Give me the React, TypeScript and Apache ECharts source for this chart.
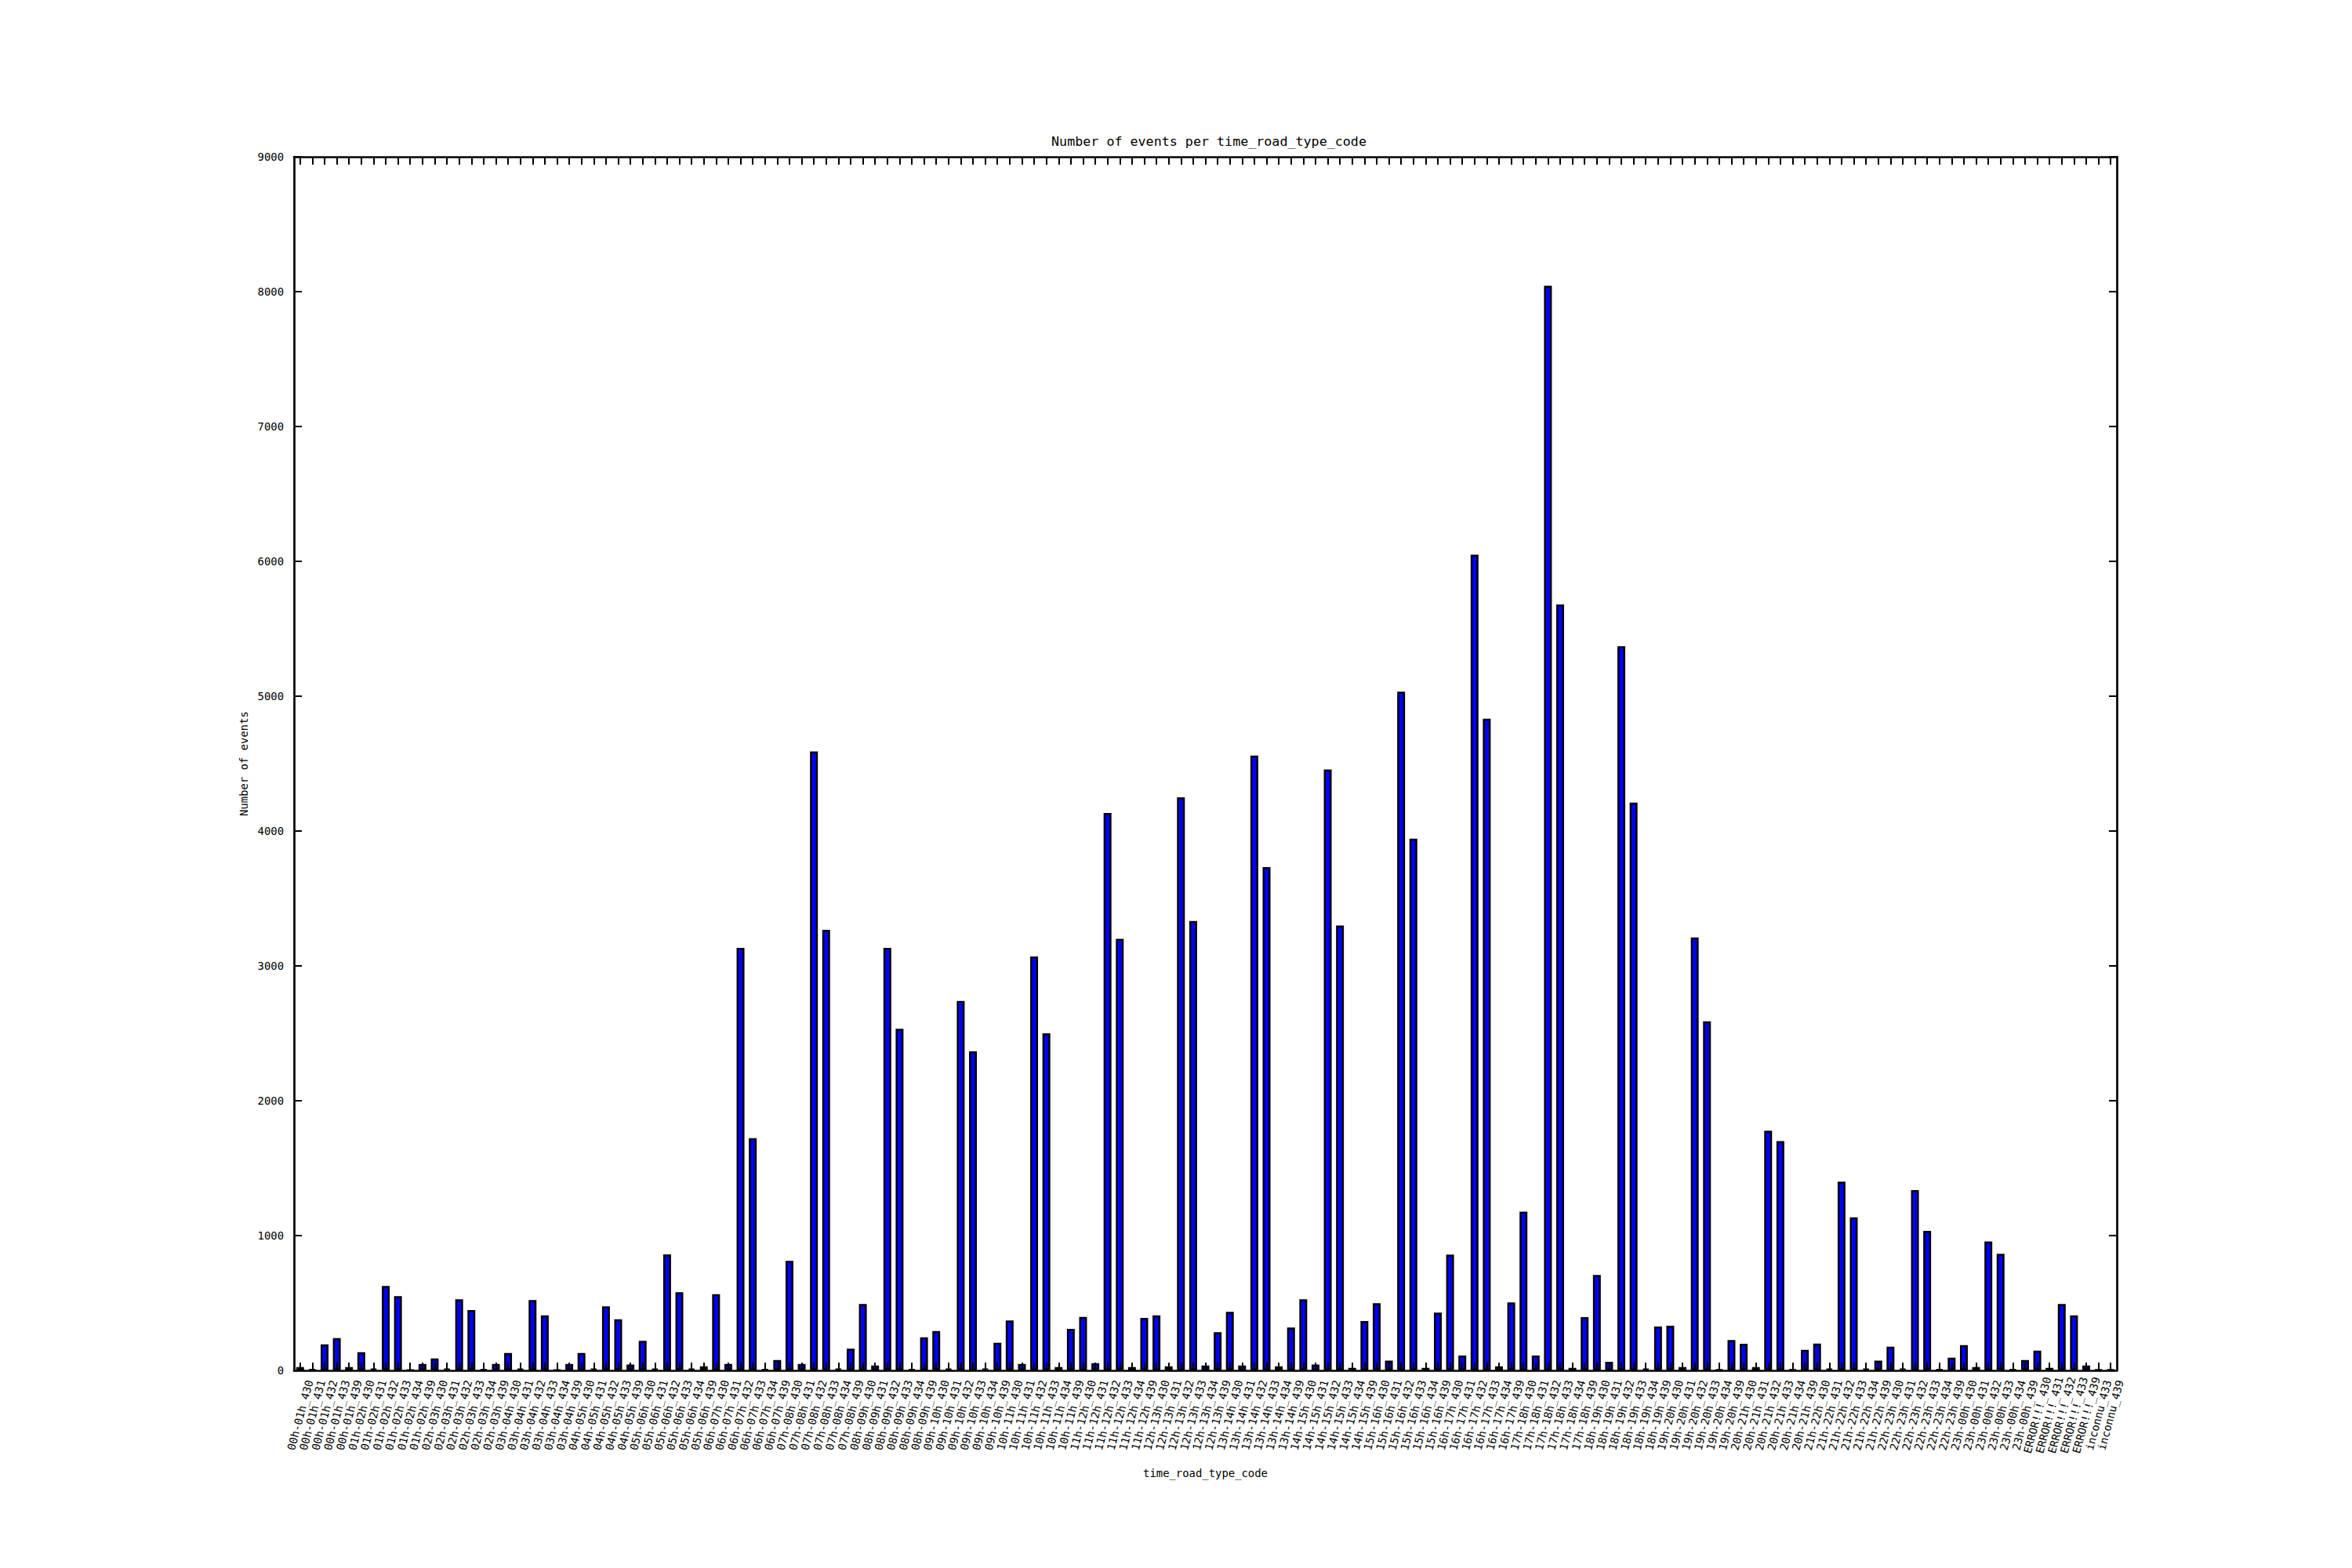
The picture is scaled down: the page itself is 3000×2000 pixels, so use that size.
// Bar chart: number of events per time_road_type_code

import { useEffect, useRef } from 'react';
import * as echarts from 'echarts';

const categories = [
    '00h-01h_430', '00h-01h_431', '00h-01h_432', '00h-01h_433', '00h-01h_439',
    '01h-02h_430', '01h-02h_431', '01h-02h_432', '01h-02h_433', '01h-02h_434', '01h-02h_439',
    '02h-03h_430', '02h-03h_431', '02h-03h_432', '02h-03h_433', '02h-03h_434', '02h-03h_439',
    '03h-04h_430', '03h-04h_431', '03h-04h_432', '03h-04h_433', '03h-04h_434', '03h-04h_439',
    '04h-05h_430', '04h-05h_431', '04h-05h_432', '04h-05h_433', '04h-05h_439',
    '05h-06h_430', '05h-06h_431', '05h-06h_432', '05h-06h_433', '05h-06h_434', '05h-06h_439',
    '06h-07h_430', '06h-07h_431', '06h-07h_432', '06h-07h_433', '06h-07h_434', '06h-07h_439',
    '07h-08h_430', '07h-08h_431', '07h-08h_432', '07h-08h_433', '07h-08h_434', '07h-08h_439',
    '08h-09h_430', '08h-09h_431', '08h-09h_432', '08h-09h_433', '08h-09h_434', '08h-09h_439',
    '09h-10h_430', '09h-10h_431', '09h-10h_432', '09h-10h_433', '09h-10h_434', '09h-10h_439',
    '10h-11h_430', '10h-11h_431', '10h-11h_432', '10h-11h_433', '10h-11h_434', '10h-11h_439',
    '11h-12h_430', '11h-12h_431', '11h-12h_432', '11h-12h_433', '11h-12h_434', '11h-12h_439',
    '12h-13h_430', '12h-13h_431', '12h-13h_432', '12h-13h_433', '12h-13h_434', '12h-13h_439',
    '13h-14h_430', '13h-14h_431', '13h-14h_432', '13h-14h_433', '13h-14h_434', '13h-14h_439',
    '14h-15h_430', '14h-15h_431', '14h-15h_432', '14h-15h_433', '14h-15h_434', '14h-15h_439',
    '15h-16h_430', '15h-16h_431', '15h-16h_432', '15h-16h_433', '15h-16h_434', '15h-16h_439',
    '16h-17h_430', '16h-17h_431', '16h-17h_432', '16h-17h_433', '16h-17h_434', '16h-17h_439',
    '17h-18h_430', '17h-18h_431', '17h-18h_432', '17h-18h_433', '17h-18h_434', '17h-18h_439',
    '18h-19h_430', '18h-19h_431', '18h-19h_432', '18h-19h_433', '18h-19h_434', '18h-19h_439',
    '19h-20h_430', '19h-20h_431', '19h-20h_432', '19h-20h_433', '19h-20h_434', '19h-20h_439',
    '20h-21h_430', '20h-21h_431', '20h-21h_432', '20h-21h_433', '20h-21h_434', '20h-21h_439',
    '21h-22h_430', '21h-22h_431', '21h-22h_432', '21h-22h_433', '21h-22h_434', '21h-22h_439',
    '22h-23h_430', '22h-23h_431', '22h-23h_432', '22h-23h_433', '22h-23h_434', '22h-23h_439',
    '23h-00h_430', '23h-00h_431', '23h-00h_432', '23h-00h_433', '23h-00h_434', '23h-00h_439',
    'ERROR!!!_430', 'ERROR!!!_431', 'ERROR!!!_432', 'ERROR!!!_433', 'ERROR!!!_439',
    'inconnu_433', 'inconnu_439',
];

// one line per time slot, same order as categories
const eventCounts = [
    25, 10, 193, 240, 25,
    135, 14, 627, 551, 3, 48,
    89, 14, 528, 447, 10, 48,
    130, 14, 522, 408, 3, 48,
    130, 14, 476, 379, 43,
    220, 14, 861, 580, 14, 31,
    565, 48, 3133, 1722, 10, 77,
    812, 48, 4590, 3267, 14, 162,
    493, 37, 3133, 2533, 10, 246,
    292, 14, 2740, 2367, 14, 205,
    371, 48, 3070, 2500, 25, 308,
    397, 54, 4133, 3200, 25, 389,
    408, 31, 4250, 3333, 37, 284,
    435, 37, 4560, 3733, 31, 319,
    528, 43, 4456, 3300, 19, 366,
    499, 72, 5033, 3944, 19, 429,
    859, 110, 6050, 4833, 31, 505,
    1178, 110, 8044, 5680, 19, 395,
    708, 64, 5370, 4211, 14, 325,
    331, 25, 3211, 2589, 6, 226,
    197, 25, 1778, 1700, 10, 153,
    199, 14, 1400, 1135, 14, 72,
    176, 14, 1337, 1035, 10, 95,
    188, 25, 957, 865, 10, 77,
    147, 19, 493, 408, 37,
    6, 6,
];

const yMin = 0;
const yMax = 9000;
const yStep = 1000;

const FONT = 'DejaVu Sans Mono';

export default function App() {
    const chartRef = useRef<HTMLDivElement>(null);

    useEffect(() => {
        if (!chartRef.current) return;
        document.body.style.margin = '0';

        const chart = echarts.init(chartRef.current, undefined, { renderer: 'svg' });

        const spine = { color: '#000', width: 2.7 };
        const tick = { color: '#000', width: 2 };

        const option: echarts.EChartsOption = {
            animation: false,
            backgroundColor: '#ffffff',
            textStyle: { fontFamily: FONT, color: '#000' },
            title: {
                text: 'Number of events per time_road_type_code',
                left: 1537,
                top: 166,
                textAlign: 'center',
                textStyle: { fontFamily: FONT, fontSize: 16.7, fontWeight: 'normal', color: '#000' },
            },
            grid: { left: 375, right: 300, top: 200, bottom: 252, containLabel: false },
            xAxis: [
                {
                    type: 'category',
                    data: categories,
                    position: 'bottom',
                    z: 5,
                    axisLine: { show: true, onZero: false, lineStyle: spine },
                    axisTick: { show: true, inside: true, length: 10, alignWithLabel: true, interval: 0, lineStyle: tick },
                    axisLabel: {
                        interval: 0,
                        rotate: 75,
                        align: 'center',
                        verticalAlign: 'middle',
                        margin: 57,
                        fontFamily: FONT,
                        fontSize: 13.9,
                        color: '#000',
                    },
                    splitLine: { show: false },
                    name: 'time_road_type_code',
                    nameLocation: 'middle',
                    nameGap: 124,
                    nameTextStyle: { fontFamily: FONT, fontSize: 13.9, color: '#000' },
                },
                {
                    // matching ticks along the top spine
                    type: 'category',
                    data: categories,
                    position: 'top',
                    z: 5,
                    axisLine: { show: true, onZero: false, lineStyle: spine },
                    axisTick: { show: true, inside: true, length: 10, alignWithLabel: true, interval: 0, lineStyle: tick },
                    axisLabel: { show: false, interval: 0 },
                    splitLine: { show: false },
                },
            ],
            yAxis: [
                {
                    type: 'value',
                    min: yMin,
                    max: yMax,
                    interval: yStep,
                    position: 'left',
                    z: 5,
                    axisLine: { show: true, onZero: false, lineStyle: spine },
                    axisTick: { show: true, inside: true, length: 10, lineStyle: tick },
                    axisLabel: {
                        margin: 13,
                        fontFamily: FONT,
                        fontSize: 13.9,
                        color: '#000',
                        formatter: (v: number) => String(v),
                    },
                    splitLine: { show: false },
                    name: 'Number of events',
                    nameLocation: 'middle',
                    nameRotate: 90,
                    nameGap: 53,
                    nameTextStyle: { fontFamily: FONT, fontSize: 13.9, color: '#000' },
                },
                {
                    type: 'value',
                    min: yMin,
                    max: yMax,
                    interval: yStep,
                    position: 'right',
                    z: 5,
                    axisLine: { show: true, onZero: false, lineStyle: spine },
                    axisTick: { show: true, inside: true, length: 10, lineStyle: tick },
                    axisLabel: { show: false },
                    splitLine: { show: false },
                },
            ],
            series: [
                {
                    type: 'bar',
                    xAxisIndex: 0,
                    yAxisIndex: 0,
                    data: eventCounts,
                    barWidth: 10,
                    itemStyle: { color: '#0000ff', borderColor: '#000', borderWidth: 2.5 },
                },
            ],
        };

        chart.setOption(option, { notMerge: true });

        return () => {
            chart.dispose();
        };
    }, []);

    return <div ref={chartRef} style={{ width: '3000px', height: '2000px' }} />;
}
